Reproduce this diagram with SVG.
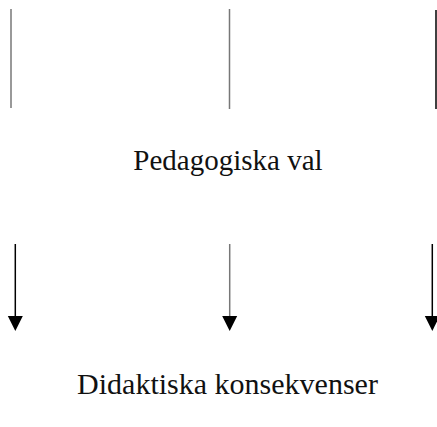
<svg xmlns="http://www.w3.org/2000/svg" width="437" height="427" viewBox="0 0 437 427">
  <style>
    .label { font-family: "Liberation Serif", "DejaVu Serif", serif; fill: #111; text-anchor: middle; }
    .rule { stroke-width: 1.5; fill: none; }
    .grey { stroke: #777; }
    .dark { stroke: #000; }
  </style>
  <defs>
    <!-- filled triangle, base at the line end, tip 15px further along -->
    <marker id="head" markerUnits="userSpaceOnUse" markerWidth="16" markerHeight="16" viewBox="0 0 16 16" refX="0" refY="8" orient="auto">
      <path d="M0,0.5 L15,8 L0,15.5 Z" fill="#000"/>
    </marker>
  </defs>

  <!-- vertical rules and arrows -->
  <g id="connectors">
    <line class="rule grey" x1="11" y1="9" x2="11" y2="108"/>
    <line class="rule grey" x1="229.5" y1="9" x2="229.5" y2="109"/>
    <line class="rule dark" x1="436" y1="10" x2="436" y2="109"/>

    <line class="rule dark" x1="15.3" y1="244" x2="15.3" y2="316" marker-end="url(#head)"/>
    <line class="rule grey" x1="229.7" y1="244" x2="229.7" y2="316" marker-end="url(#head)"/>
    <line class="rule dark" x1="432.3" y1="244" x2="432.3" y2="316" marker-end="url(#head)"/>
  </g>

  <g id="pedagogiska-val">
    <text class="label" x="228" y="170" font-size="29">Pedagogiska val</text>
  </g>

  <g id="didaktiska-konsekvenser">
    <text class="label" x="227.5" y="394" font-size="30">Didaktiska konsekvenser</text>
  </g>
</svg>
